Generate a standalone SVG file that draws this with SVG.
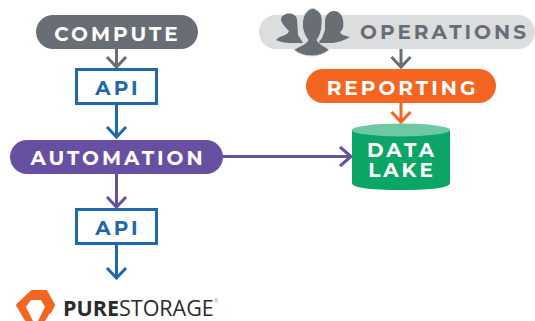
<svg xmlns="http://www.w3.org/2000/svg" width="535" height="321" viewBox="0 0 535 321">
<style>
text{font-family:"Montserrat","Inter","Liberation Sans",sans-serif;font-weight:700;font-size:20px;text-anchor:middle;letter-spacing:3px}
.w{fill:#fff}.b{fill:#1f69aa}.g{fill:#686e73}
.box{fill:#fff;stroke:#1f69aa;stroke-width:3}
.c{fill:none;stroke-width:3}
.p{fill:#686e73}
</style>
<g id="connectors">
<path class="c" stroke="#686e73" d="M116.500 49V67M107 57L116.500 67L126 57"/>
<path class="c" stroke="#1f69aa" d="M116.500 104V137M107 127L116.500 137L126 127"/>
<path class="c" stroke="#6750a2" d="M222 156.500H351M340 147L351 156.500L340 166"/>
<path class="c" stroke="#6750a2" d="M116.500 173V207M107 197L116.500 207L126 197"/>
<path class="c" stroke="#1f69aa" d="M116.500 245V278M107 268L116.500 278L126 268"/>
<path class="c" stroke="#686e73" d="M401 49V67M391.500 57L401 67L410.500 57"/>
<path class="c" stroke="#f56522" d="M401 103V122M391.500 112L401 122L410.500 112"/>
</g>
<g id="compute"><rect x="36" y="15" width="162" height="34" rx="17" fill="#686e73"/><text class="w" x="117.500" y="41">COMPUTE</text></g>
<g id="api-1"><rect class="box" x="76.500" y="69.500" width="80" height="34"/><text class="b" x="118" y="95">API</text></g>
<g id="automation"><rect x="10" y="140" width="213" height="34" rx="17" fill="#6750a2"/><text class="w" x="118" y="165">AUTOMATION</text></g>
<g id="api-2"><rect class="box" x="76.500" y="209.500" width="80" height="34"/><text class="b" x="118" y="235">API</text></g>
<g id="operations"><rect x="259" y="15" width="276" height="34" rx="17" fill="#dcddde"/>
<path class="p" d="M276 40C280 35 288 36 289 31C286 28 282 24 281 20C281 12 295 11 297 19L298 35L303 43L290 43C285 43 280 42 276 40Z"/>
<path class="p" d="M350 37C344 35 342 36 340 32C343 30 344 26 343 20C341 8 327 8 325 20L325 30L322 38L318 43L333 43C340 42 345 40 350 37Z"/>
<path class="p" stroke="#dcddde" d="M294 50C298 46 306 45 308 40C304 35 301 27 303 19C304 13 309 9 313 8C319 11 323 13 322 24C322 30 320 36 317 40C319 45 326 46 329 50C324 54 318 56 312 56C305 56 299 54 294 50Z"/>
<text class="g" x="444.500" y="39">OPERATIONS</text></g>
<g id="reporting"><rect x="306" y="69" width="190" height="34" rx="17" fill="#f56522"/><text class="w" x="402.500" y="95">REPORTING</text></g>
<g id="data-lake"><path d="M352 130V183Q352 190 401 190Q450 190 450 183V130Z" fill="#0ba566"/><ellipse cx="401" cy="130" rx="49" ry="6.500" fill="#6cc9a1"/><text class="w" x="402" y="157">DATA<tspan x="402" dy="20">LAKE</tspan></text></g>
<g id="logo"><path fill="#f56522" stroke="#f56522" stroke-width="3" stroke-linejoin="round" d="M32 291.500H46L53.500 305L46 319.500H26L17.500 305Z"/>
<path fill="#fff" d="M31 300H41L45 307L38 321H33L26 307Z"/>
<path fill="#fff" d="M45 321L50 313L56 321Z"/>
<text x="63" y="316" style="font-family:'Open Sans','Liberation Sans',sans-serif;font-size:21.500px;letter-spacing:0;text-anchor:start;fill:#2b2b2b">PURE<tspan font-weight="400">STORAGE</tspan></text>
<text x="214" y="303" style="font-size:5px;font-weight:400;letter-spacing:0;text-anchor:start;fill:#555">®</text></g>
</svg>
